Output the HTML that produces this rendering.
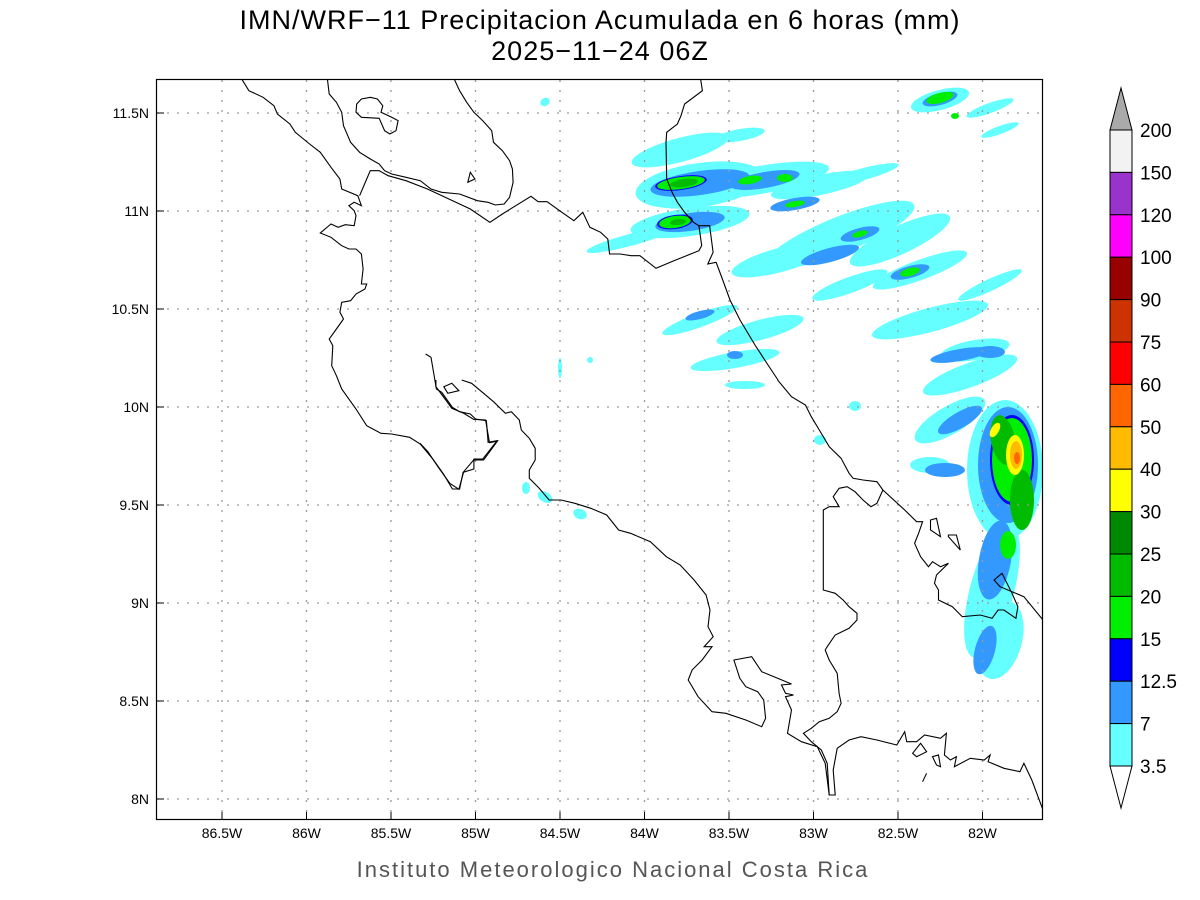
<!DOCTYPE html>
<html><head><meta charset="utf-8"><style>
html,body{margin:0;padding:0;background:#fff;width:1200px;height:900px;overflow:hidden}
svg{display:block}
text{font-family:"Liberation Sans",sans-serif;fill:#000}
</style></head><body>
<svg id="s" width="1200" height="900" xmlns="http://www.w3.org/2000/svg">
<text x="600" y="29" font-size="27" text-anchor="middle" letter-spacing="1">IMN/WRF−11 Precipitacion Acumulada en 6 horas (mm)</text>
<text x="600" y="60" font-size="27" text-anchor="middle" letter-spacing="1">2025−11−24 06Z</text>
<text x="613" y="877" font-size="22" text-anchor="middle" fill="#555" style="fill:#555" letter-spacing="2">Instituto Meteorologico Nacional Costa Rica</text>
<defs><clipPath id="c"><rect x="157" y="80" width="885" height="739"/></clipPath></defs>
<g id="precip" clip-path="url(#c)"></g>
<g id="grid" stroke="#999" stroke-width="1.3" stroke-dasharray="2,8"></g>
<g id="coast" clip-path="url(#c)" fill="none" stroke="#000" stroke-width="1.1"></g>
<rect x="156.5" y="79.5" width="886" height="740" fill="none" stroke="#000" stroke-width="1.2"/>
<g id="ticks" font-size="14"></g>
<g id="cbar"></g>
</svg>
<script>
var NS="http://www.w3.org/2000/svg";
function el(p,t,a,txt){var e=document.createElementNS(NS,t);for(var k in a)e.setAttribute(k,a[k]);if(txt!=null)e.textContent=txt;document.getElementById(p).appendChild(e);return e;}
var lons=["86.5W","86W","85.5W","85W","84.5W","84W","83.5W","83W","82.5W","82W"];
for(var i=0;i<10;i++){var x=222+i*84.5;el("grid","line",{x1:x,y1:80,x2:x,y2:819});
el("ticks","line",{x1:x,y1:812,x2:x,y2:819,stroke:"#000"});
el("ticks","text",{x:x,y:838,"text-anchor":"middle"},lons[i]);}
var lats=["11.5N","11N","10.5N","10N","9.5N","9N","8.5N","8N"];
for(var j=0;j<8;j++){var y=113+j*98;el("grid","line",{x1:157,y1:y,x2:1042,y2:y});
el("ticks","line",{x1:157,y1:y,x2:164,y2:y,stroke:"#000"});
el("ticks","text",{x:149,y:y+5,"text-anchor":"end"},lats[j]);}
var cols=["#f2f2f2","#9933cc","#ff00ff","#990000","#cc3300","#ff0000","#ff6600","#ffbb00","#ffff00","#008800","#00bb00","#00ee00","#0000ff","#3399ff","#66ffff"];
var labs=["200","150","120","100","90","75","60","50","40","30","25","20","15","12.5","7","3.5"];
var cbTop=130,h=42.4;
el("cbar","polygon",{points:"1110,"+cbTop+" 1121,88 1132,"+cbTop,fill:"#aaa",stroke:"#000"});
for(var k=0;k<15;k++)el("cbar","rect",{x:1110,y:cbTop+k*h,width:22,height:h,fill:cols[k],stroke:"#000","stroke-width":1});
var bot=cbTop+15*h;
el("cbar","polygon",{points:"1110,"+bot+" 1121,808 1132,"+bot,fill:"#fff",stroke:"#000"});
for(var k=0;k<16;k++)el("cbar","text",{x:1140,y:cbTop+k*h+7,"font-size":"19"},labs[k]);
function Z1(a){var r=[];for(var i=0;i<a.length;i+=2)r.push((a[i]/2.8+156).toFixed(1)+","+(a[i+1]/3+79).toFixed(1));return r.join(" ");}
function Z2(a){var r=[];for(var i=0;i<a.length;i+=2)r.push((a[i]/2.517+420).toFixed(1)+","+(a[i+1]/3+380).toFixed(1));return r.join(" ");}
function pl(s,closed){el("coast",closed?"polygon":"polyline",{points:s});}
pl(Z1([240,0,260,35,300,55,330,80,340,105,375,135,390,160,430,195,460,220,490,265,515,300,520,330,565,350,575,380,555,370,540,380,555,395,560,410,555,440,530,437,510,445,490,435,460,462,490,475,520,500,540,510,560,510,575,525,580,570,575,615,590,615,585,630,560,645,545,665,520,670,515,700,525,720,505,750,485,780,495,800,492,860,505,890,520,930,560,990,590,1040,630,1063,660,1065,710,1075,740,1095,775,1140,805,1185,830,1230,850,1230,860,1180,890,1170,890,1140,915,1140,955,1085,930,1090,925,1025,895,1020,880,1005,850,998,830,985,800,940,785,930,770,835,755,825]));
pl(Z1([480,0,485,45,505,70,520,100,525,140,545,190,570,220,600,240,625,255,640,275,660,285,700,295,740,305,770,330,800,340,850,345,900,365,930,370,950,378,975,375,990,355,1000,310,998,270,990,245,970,215,945,190,940,155,915,125,890,100,870,70,850,35,835,0]));
pl(Z1([600,55,620,60,635,80,630,100,660,115,678,125,672,155,655,165,640,155,625,118,575,115,560,100,562,75,575,60]),1);
pl(Z1([880,280,893,300,873,310]),1);
pl(Z1([570,350,590,300,600,275,625,275,650,290,700,305,760,330,820,360,880,390,935,430,970,405,1000,385,1050,352,1070,368,1095,368,1130,395,1170,425,1195,400,1215,445,1245,460,1265,480,1270,525,1300,525,1330,530,1355,530,1400,568,1450,545,1485,530,1520,515,1528,500,1520,440]));
pl(Z1([1525,0,1530,35,1480,75,1470,110,1460,135,1430,160,1428,190,1430,300,1445,340,1460,370,1480,400,1505,430,1520,440,1550,440,1560,520,1545,555,1568,550]));
pl("716,262 722,278 730,300 740,320 755,345 768,365 778,380");
pl(Z2([900,0,935,50,970,75,985,110,1005,150,1030,200,1060,235,1080,280,1090,295,1115,300,1150,305,1165,330,1220,390,1250,425,1265,425,1255,460,1245,490,1260,530,1280,560,1290,545,1310,560,1330,550,1300,585,1295,610,1305,630,1305,660,1340,680,1365,710,1410,705,1440,715,1455,690,1470,690,1500,715,1505,680,1490,640,1465,580,1445,600,1460,620,1490,635,1520,650,1568,720]));
pl(Z2([0,190,20,215,45,260,75,310,98,328,110,275,135,240,160,240,195,183,175,188,165,120,135,118,110,100,80,85,65,60,40,20,40,0]));
pl(Z2([105,0,130,10,160,40,185,65,215,100,230,95,250,120,255,150,275,175,290,205,290,240,275,270,275,295,300,325,325,360,355,360,390,370,430,385,470,405,500,450,530,460,580,485,620,530,655,555,690,600,720,645,730,690,725,740,738,770,715,800,735,800,710,840,685,870,675,900,700,950,735,995,770,1000,820,1020,860,1040,870,1015,865,960,850,935,820,920,805,895,790,840,835,830,860,875,900,895,935,912,910,915,920,940,940,945,920,950,935,990,925,1060,960,1085,1000,1100,1020,1150,1030,1245,1045,1245,1040,1170,1050,1105,1080,1080,1110,1070,1150,1080,1200,1095,1220,1055,1225,1085,1250,1085,1270,1065,1310,1075,1325,1060,1320,1125,1335,1140,1350,1130,1345,1160,1385,1135,1420,1140,1435,1125,1430,1145,1470,1165,1510,1175,1520,1150,1540,1200,1568,1290]));
pl(Z2([1165,330,1150,370,1135,380,1115,360,1095,335,1075,320,1055,325,1040,350,1055,380,1030,380,1015,390,1015,630,1045,640,1065,660,1080,680,1100,700,1100,720,1080,745,1045,765,1025,800,1020,810,1030,840,1050,880,1055,940,1060,970,1050,995,1030,1015,1005,1025,985,1045,965,1060,985,1085,1010,1110,1025,1150,1030,1245]));
pl(Z2([60,20,80,10,98,32,70,40]),1);
pl(Z2([1285,420,1300,415,1310,470,1285,450]),1);
pl(Z2([1330,465,1350,465,1360,510,1330,470]),1);
pl(Z2([1240,1120,1260,1090,1275,1115,1250,1130]),1);
pl(Z2([1290,1130,1305,1125,1310,1160,1300,1155]),1);
pl(Z2([1265,1205,1275,1180]));
var C="#66ffff",B="#3399ff",D="#0000ff",G="#00ee00",M="#00bb00",K="#008800",Y="#ffff00",O="#ffbb00",R="#ff6600";
var P=[
[680,150,50,12,-15,C],[700,185,65,22,-8,C],[690,222,60,14,-8,C],[760,180,70,14,-10,C],[820,185,50,10,-12,C],[630,240,45,6,-15,C],
[740,135,25,6,-10,C],[860,175,40,6,-15,C],[940,100,30,10,-15,C],[990,108,25,5,-20,C],[1000,130,20,4,-20,C],
[840,235,80,18,-22,C],[900,240,55,14,-25,C],[780,260,50,12,-15,C],[920,270,50,10,-20,C],[990,285,35,6,-25,C],
[850,285,40,8,-20,C],[700,320,40,7,-20,C],[760,330,45,10,-15,C],[930,320,60,12,-15,C],[735,360,45,8,-10,C],[745,385,20,4,0,C],
[545,102,5,4,-30,C],[590,360,3,3,0,C],[526,488,4,6,0,C],[545,497,8,5,30,C],[580,514,7,5,20,C],[560,368,2,10,0,C],
[820,440,6,5,0,C],[855,406,6,5,0,C],[970,375,50,12,-20,C],[975,350,35,10,-10,C],
[700,183,50,12,-8,B],[690,222,35,9,-8,B],[765,180,35,8,-10,B],[795,204,25,6,-10,B],[860,234,20,6,-15,B],[910,272,20,6,-15,B],[940,99,18,6,-15,B],[830,255,30,7,-15,B],[700,315,15,4,-15,B],[735,355,8,4,0,B],[960,355,30,6,-10,B],[990,352,15,6,0,B],
[1005,470,38,70,0,C],[992,590,22,70,15,C],[1000,640,22,40,15,C],[950,420,40,14,-30,C],[930,465,20,8,0,C],
[1008,465,30,58,0,B],[995,560,16,40,10,B],[985,650,10,25,15,B],[945,470,20,7,0,B],[960,420,25,8,-30,B],
[1012,460,22,45,0,D],[1012,460,20,42,0,G],[1003,440,12,25,-10,M],[1022,500,12,30,0,M],[1008,545,8,14,0,G],
[1015,455,9,20,0,Y],[1016,455,6,14,0,O],[1017,458,3,6,0,R],[995,430,4,8,30,Y],
[681,183,26,7,-8,D],[681,183,24,6,-8,G],[684,183,14,4,-8,M],[675,222,18,7,-8,D],[675,222,16,6,-8,G],[678,222,8,3,-8,M],
[750,180,12,4,-10,G],[785,178,8,4,0,G],[795,204,10,3,-10,G],[860,234,8,3,-15,G],[910,272,10,4,-15,G],[940,98,14,5,-15,G],[955,116,4,3,0,G]
];
P.forEach(function(p){el("precip","ellipse",{cx:p[0],cy:p[1],rx:p[2],ry:p[3],fill:p[5],transform:"rotate("+p[4]+" "+p[0]+" "+p[1]+")"});});
</script>
</body></html>
